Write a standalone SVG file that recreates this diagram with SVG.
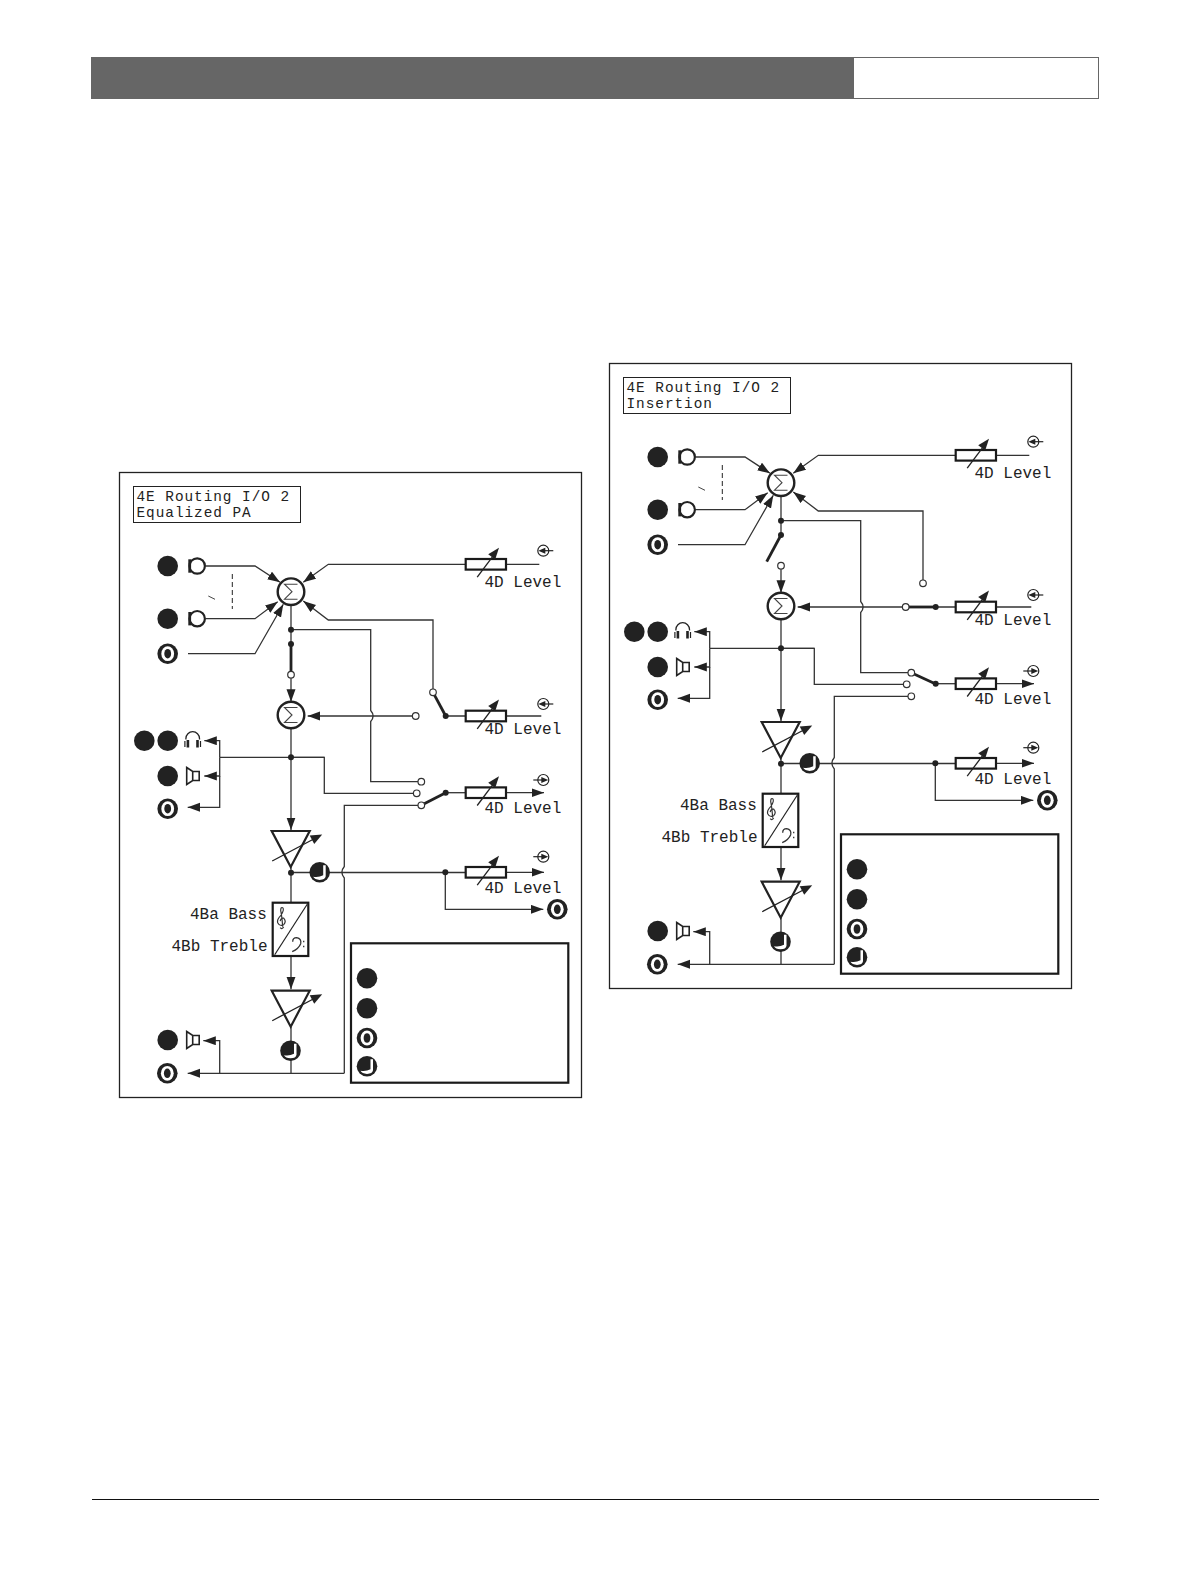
<svg xmlns="http://www.w3.org/2000/svg" width="1190" height="1588" viewBox="0 0 1190 1588">
<style>
.w{fill:none;stroke:#333;stroke-width:1.3}
.wa{fill:none;stroke:#333;stroke-width:1.3;marker-end:url(#ah)}
.th{fill:none;stroke:#222;stroke-width:2.8}
.box{fill:#fff;stroke:#1a1a1a;stroke-width:2.2}
.frame{fill:#fff;stroke:#222;stroke-width:1.3}
.open{fill:#fff;stroke:#333;stroke-width:1.2}
.t{font-family:"Liberation Mono",monospace;font-size:16px;fill:#222}
.tt{font-family:"Liberation Mono",monospace;font-size:14.4px;letter-spacing:0.96px;fill:#222}
.dot{fill:#222}
</style>
<defs>
<marker id="ah" markerUnits="userSpaceOnUse" markerWidth="13" markerHeight="10" refX="12.500" refY="4.500" orient="auto"><path d="M0 0L12.500 4.500L0 9Z" fill="#222"/></marker>
<g id="bk"><circle r="10.3" fill="#222"/></g>
<g id="oo"><circle r="10.3" fill="#222"/><ellipse rx="6.4" ry="7.4" fill="#fff"/><ellipse rx="3.4" ry="4.8" fill="#222"/></g>
<g id="nt"><circle r="10.3" fill="#222"/><path d="M3.500 -7H6V4Q5.500 7.500 0 7.600Q-5 7.500 -6.500 4.500Q-1 5.500 3.500 3Z" fill="#fff"/></g>
<g id="mic"><path d="M1 -6.700V6.700" stroke="#222" stroke-width="2.800" fill="none"/><circle cx="8.500" r="7.700" fill="none" stroke="#222" stroke-width="2.200"/></g>
<g id="spk"><path d="M0 -8.500L6 -4.500H12.500V4.500H6L0 8.500Z M6 -4.500V4.500" fill="#fff" stroke="#222" stroke-width="1.600"/></g>
<g id="hp"><path d="M-6.800 -1.500V-2.500A6.800 6.800 0 0 1 6.800 -2.500V-1.500" fill="none" stroke="#222" stroke-width="1.300"/><path d="M-4.800 -1V6.500M4.800 -1V6.500" stroke="#222" stroke-width="2.600"/><path d="M-7.800 0V6M7.800 0V6" stroke="#222" stroke-width="1.200"/></g>
<g id="sig"><circle r="13.3" fill="#fff" stroke="#222" stroke-width="2.400"/><path d="M6.500 -7.500H-6.500L1 0L-6.500 7.500H6.500" fill="none" stroke="#444" stroke-width="1.100"/></g>
<g id="res"><rect x="0" y="-5.300" width="40.300" height="10.600" class="box"/><path d="M11.500 12.800L29 -10.500" class="w" style="stroke:#222"/><path d="M33.300 -16.500L22.500 -10L29.500 -4.800Z" fill="#222"/></g>
<g id="inp"><circle r="5.500" fill="#fff" stroke="#222" stroke-width="1.200"/><path d="M10 0H-2" stroke="#222" stroke-width="1.200"/><path d="M-5 0L2 -3V3Z" fill="#222"/></g>
<g id="outp"><circle r="5.500" fill="#fff" stroke="#222" stroke-width="1.200"/><path d="M-10 0H2" stroke="#222" stroke-width="1.200"/><path d="M5 0L-2 -3V3Z" fill="#222"/></g>
<g id="amp"><path d="M-19 0H19L0 36Z" fill="#fff" stroke="#222" stroke-width="2.200"/><path d="M-18.500 30L24 7.500" class="w" style="stroke:#222"/><path d="M31.500 3.500L19 4.500L23.500 13Z" fill="#222"/></g>
<g id="eq"><rect x="0" y="0" width="35.600" height="53.300" class="box"/><path d="M2 52L34.500 1.500" stroke="#222" stroke-width="1.200" fill="none"/><path d="M11 24.500Q9 27 7.500 25M10 24Q9 12 8 8Q8 4 10 5Q12 7 8 13Q4 17 5 20Q7 24 11 22Q14 19 11 15.500Q8 15 7.500 18.500" fill="none" stroke="#333" stroke-width="1.200"/><path d="M20 39Q20 35 24 35Q29 36 28 41Q26 46 19.500 49M31 38V39.500M31 43V44.500" fill="none" stroke="#333" stroke-width="1.300"/></g>
</defs>
<rect width="1190" height="1588" fill="#fff"/>
<g id="header">
<rect x="91.500" y="57.500" width="1007" height="41" fill="#fff" stroke="#666" stroke-width="1"/>
<rect x="91" y="57" width="763" height="42" fill="#666"/>
</g>
<path id="footer-rule" d="M92 1499.500H1099" stroke="#111" stroke-width="1.200"/>

<g id="panel-a">
<rect id="a-frame" x="119.500" y="472.500" width="462" height="625" class="frame"/>
<g id="a-connectors">
<path class="wa" d="M205.700 566H255L280 582.300"/>
<path class="wa" d="M205.700 618.700H255L277.700 601.700"/>
<path class="wa" d="M188 653.700H255L283.300 604.300"/>
<path class="wa" d="M465.700 564.300H328.300L303.300 582.300"/>
<path class="w" d="M506 564.300H539.300"/>
<path class="wa" d="M433 689V620H328.300L303.300 601"/>
<path class="w" d="M291 605V644"/>
<path class="wa" d="M291 678V701.700"/>
<path class="w" d="M291 629.700H370.700V710.500Q375.500 716 370.700 721.500V781.700H418"/>
<path class="wa" d="M412.400 716H307.700"/>
<path class="w" d="M445.700 716H465.700M506 716H541.300"/>
<path class="wa" d="M291 728.500V830"/>
<path class="w" d="M324.300 757.300H219.700"/>
<path class="wa" d="M219.700 757.300V740.700H204.300"/>
<path class="wa" d="M219.700 757.300V776H204.300"/>
<path class="wa" d="M219.700 776V807.300H187.700"/>
<path class="w" d="M291 757.300H324.300V793.300H413.400"/>
<path class="w" d="M418 805.300H344.300V866.500Q339.500 872.300 344.300 878V1073.300"/>
<path class="w" d="M445.700 792.700H465.700"/>
<path class="wa" d="M506 792.700H544"/>
<path class="w" d="M291 867V902.700"/>
<path class="w" d="M291 872.500H465.700"/>
<path class="wa" d="M506 872.300H544"/>
<path class="wa" d="M445.300 872.300V909.300H543.300"/>
<path class="wa" d="M291 956V989.300"/>
<path class="w" d="M291 1027V1073.300"/>
<path class="wa" d="M344.300 1073.300H187.700"/>
<path class="wa" d="M219.700 1073.300V1040.700H203.300"/>
<path d="M232.300 574V609" stroke="#222" stroke-width="1" stroke-dasharray="5 3" fill="none"/>
<path d="M208.300 596L215 599.300" stroke="#444" stroke-width="1"/>
<path class="th" d="M291 644V672"/>
<path class="th" d="M433 692.300L445.700 716"/>
<path class="th" d="M421.300 805.300L445.700 792.700"/>
<circle class="dot" cx="291" cy="629.700" r="3"/><circle class="dot" cx="291" cy="644" r="3"/><circle class="dot" cx="291" cy="757.300" r="3"/><circle class="dot" cx="291" cy="872.700" r="3"/><circle class="dot" cx="445.700" cy="716" r="3"/><circle class="dot" cx="445.700" cy="792.700" r="3"/><circle class="dot" cx="445.300" cy="872.300" r="3"/>
<circle class="open" cx="291" cy="674.700" r="3.300"/><circle class="open" cx="433" cy="692.300" r="3.300"/><circle class="open" cx="415.700" cy="716" r="3.300"/><circle class="open" cx="421.300" cy="781.700" r="3.300"/><circle class="open" cx="416.700" cy="793.300" r="3.300"/><circle class="open" cx="421.300" cy="805.300" r="3.300"/>
</g>
<g id="a-title"><rect x="133.500" y="486.500" width="167" height="36" fill="#fff" stroke="#222" stroke-width="1"/><text class="tt" x="136.500" y="500.700">4E Routing I/O 2</text><text class="tt" x="136.500" y="517.200">Equalized PA</text></g>
<g id="a-in1"><use href="#bk" x="167.700" y="566"/><use href="#mic" x="188.700" y="566"/></g>
<g id="a-in2"><use href="#bk" x="167.700" y="618.700"/><use href="#mic" x="188.700" y="618.700"/></g>
<g id="a-in3"><use href="#oo" x="167.700" y="653.700"/></g>
<g id="a-sum1"><use href="#sig" x="291" y="591.700"/></g>
<g id="a-sum2"><use href="#sig" x="291" y="715"/></g>
<g id="a-phones"><use href="#bk" x="144.300" y="740.700"/><use href="#bk" x="167.700" y="740.700"/><use href="#hp" x="192.700" y="741"/></g>
<g id="a-spk1"><use href="#bk" x="167.700" y="776"/><use href="#spk" x="186.700" y="776"/></g>
<g id="a-out1"><use href="#oo" x="167.700" y="808.700"/></g>
<g id="a-lvl1"><use href="#res" x="465.700" y="564.300"/><use href="#inp" x="543.300" y="550.700"/><text class="t" x="484.500" y="587.300">4D Level</text></g>
<g id="a-lvl2"><use href="#res" x="465.700" y="716"/><use href="#inp" x="543.300" y="704"/><text class="t" x="484.500" y="734">4D Level</text></g>
<g id="a-lvl3"><use href="#res" x="465.700" y="792.700"/><use href="#outp" x="543.300" y="780"/><text class="t" x="484.500" y="813.300">4D Level</text></g>
<g id="a-lvl4"><use href="#res" x="465.700" y="872.300"/><use href="#outp" x="543.300" y="856.700"/><text class="t" x="484.500" y="893.300">4D Level</text></g>
<g id="a-amp1"><use href="#amp" x="290.700" y="831"/></g>
<g id="a-note1"><use href="#nt" x="319.700" y="872.300"/></g>
<g id="a-eq"><use href="#eq" x="272.700" y="902.700"/><text class="t" x="190" y="919.300">4Ba Bass</text><text class="t" x="171.500" y="951.300">4Bb Treble</text></g>
<g id="a-amp2"><use href="#amp" x="290.700" y="990.700"/></g>
<g id="a-note2"><use href="#nt" x="290.500" y="1050.700"/></g>
<g id="a-spk2"><use href="#bk" x="167.700" y="1040"/><use href="#spk" x="186.700" y="1040"/></g>
<g id="a-out2"><use href="#oo" x="167.300" y="1073.300"/></g>
<g id="a-out3"><use href="#oo" x="557.300" y="909.300"/></g>
<g id="a-legend"><rect x="351" y="943.300" width="217.300" height="139.400" class="box"/><use href="#bk" x="367" y="978.300"/><use href="#bk" x="367" y="1008.300"/><use href="#oo" x="367" y="1038"/><use href="#nt" x="367" y="1066.300"/></g>
</g>

<g id="panel-b" transform="translate(490 -109)">
<rect id="b-frame" x="119.500" y="472.500" width="462" height="625" class="frame"/>
<g id="b-connectors">
<path class="wa" d="M205.700 566H255L280 582.300"/>
<path class="wa" d="M205.700 618.700H255L277.700 601.700"/>
<path class="wa" d="M188 653.700H255L283.300 604.300"/>
<path class="wa" d="M465.700 564.300H328.300L303.300 582.300"/>
<path class="w" d="M506 564.300H539.300"/>
<path class="wa" d="M433 689V620H328.300L303.300 601"/>
<path class="w" d="M291 605V644"/>
<path class="wa" d="M291 678V701.700"/>
<path class="w" d="M291 629.700H370.700V710.500Q375.500 716 370.700 721.500V781.700H418"/>
<path class="wa" d="M412.400 716H307.700"/>
<path class="w" d="M445.700 716H465.700M506 716H541.300"/>
<path class="wa" d="M291 728.500V830"/>
<path class="w" d="M324.300 757.300H219.700"/>
<path class="wa" d="M219.700 757.300V740.700H204.300"/>
<path class="wa" d="M219.700 757.300V776H204.300"/>
<path class="wa" d="M219.700 776V807.300H187.700"/>
<path class="w" d="M291 757.300H324.300V793.300H413.400"/>
<path class="w" d="M418 805.300H344.300V866.500Q339.500 872.300 344.300 878V1073.300"/>
<path class="w" d="M445.700 792.700H465.700"/>
<path class="wa" d="M506 792.700H544"/>
<path class="w" d="M291 867V902.700"/>
<path class="w" d="M291 872.500H465.700"/>
<path class="wa" d="M506 872.300H544"/>
<path class="wa" d="M445.300 872.300V909.300H543.300"/>
<path class="wa" d="M291 956V989.300"/>
<path class="w" d="M291 1027V1073.300"/>
<path class="wa" d="M344.300 1073.300H187.700"/>
<path class="wa" d="M219.700 1073.300V1040.700H203.300"/>
<path d="M232.300 574V609" stroke="#222" stroke-width="1" stroke-dasharray="5 3" fill="none"/>
<path d="M208.300 596L215 599.300" stroke="#444" stroke-width="1"/>
<path class="th" d="M291 644L276.700 670.700"/>
<path class="th" d="M415.700 716H445.700"/>
<path class="th" d="M421.300 781.700L445.700 793"/>
<circle class="dot" cx="291" cy="629.700" r="3"/><circle class="dot" cx="291" cy="644" r="3"/><circle class="dot" cx="291" cy="757.300" r="3"/><circle class="dot" cx="291" cy="872.700" r="3"/><circle class="dot" cx="445.700" cy="716" r="3"/><circle class="dot" cx="445.700" cy="792.700" r="3"/><circle class="dot" cx="445.300" cy="872.300" r="3"/>
<circle class="open" cx="291" cy="674.700" r="3.300"/><circle class="open" cx="433" cy="692.300" r="3.300"/><circle class="open" cx="415.700" cy="716" r="3.300"/><circle class="open" cx="421.300" cy="781.700" r="3.300"/><circle class="open" cx="416.700" cy="793.300" r="3.300"/><circle class="open" cx="421.300" cy="805.300" r="3.300"/>
</g>
<g id="b-title"><rect x="133.500" y="486.500" width="167" height="36" fill="#fff" stroke="#222" stroke-width="1"/><text class="tt" x="136.500" y="500.700">4E Routing I/O 2</text><text class="tt" x="136.500" y="517.200">Insertion</text></g>
<g id="b-in1"><use href="#bk" x="167.700" y="566"/><use href="#mic" x="188.700" y="566"/></g>
<g id="b-in2"><use href="#bk" x="167.700" y="618.700"/><use href="#mic" x="188.700" y="618.700"/></g>
<g id="b-in3"><use href="#oo" x="167.700" y="653.700"/></g>
<g id="b-sum1"><use href="#sig" x="291" y="591.700"/></g>
<g id="b-sum2"><use href="#sig" x="291" y="715"/></g>
<g id="b-phones"><use href="#bk" x="144.300" y="740.700"/><use href="#bk" x="167.700" y="740.700"/><use href="#hp" x="192.700" y="741"/></g>
<g id="b-spk1"><use href="#bk" x="167.700" y="776"/><use href="#spk" x="186.700" y="776"/></g>
<g id="b-out1"><use href="#oo" x="167.700" y="808.700"/></g>
<g id="b-lvl1"><use href="#res" x="465.700" y="564.300"/><use href="#inp" x="543.300" y="550.700"/><text class="t" x="484.500" y="587.300">4D Level</text></g>
<g id="b-lvl2"><use href="#res" x="465.700" y="716"/><use href="#inp" x="543.300" y="704"/><text class="t" x="484.500" y="734">4D Level</text></g>
<g id="b-lvl3"><use href="#res" x="465.700" y="792.700"/><use href="#outp" x="543.300" y="780"/><text class="t" x="484.500" y="813.300">4D Level</text></g>
<g id="b-lvl4"><use href="#res" x="465.700" y="872.300"/><use href="#outp" x="543.300" y="856.700"/><text class="t" x="484.500" y="893.300">4D Level</text></g>
<g id="b-amp1"><use href="#amp" x="290.700" y="831"/></g>
<g id="b-note1"><use href="#nt" x="319.700" y="872.300"/></g>
<g id="b-eq"><use href="#eq" x="272.700" y="902.700"/><text class="t" x="190" y="919.300">4Ba Bass</text><text class="t" x="171.500" y="951.300">4Bb Treble</text></g>
<g id="b-amp2"><use href="#amp" x="290.700" y="990.700"/></g>
<g id="b-note2"><use href="#nt" x="290.500" y="1050.700"/></g>
<g id="b-spk2"><use href="#bk" x="167.700" y="1040"/><use href="#spk" x="186.700" y="1040"/></g>
<g id="b-out2"><use href="#oo" x="167.300" y="1073.300"/></g>
<g id="b-out3"><use href="#oo" x="557.300" y="909.300"/></g>
<g id="b-legend"><rect x="351" y="943.300" width="217.300" height="139.400" class="box"/><use href="#bk" x="367" y="978.300"/><use href="#bk" x="367" y="1008.300"/><use href="#oo" x="367" y="1038"/><use href="#nt" x="367" y="1066.300"/></g>
</g>
</svg>
